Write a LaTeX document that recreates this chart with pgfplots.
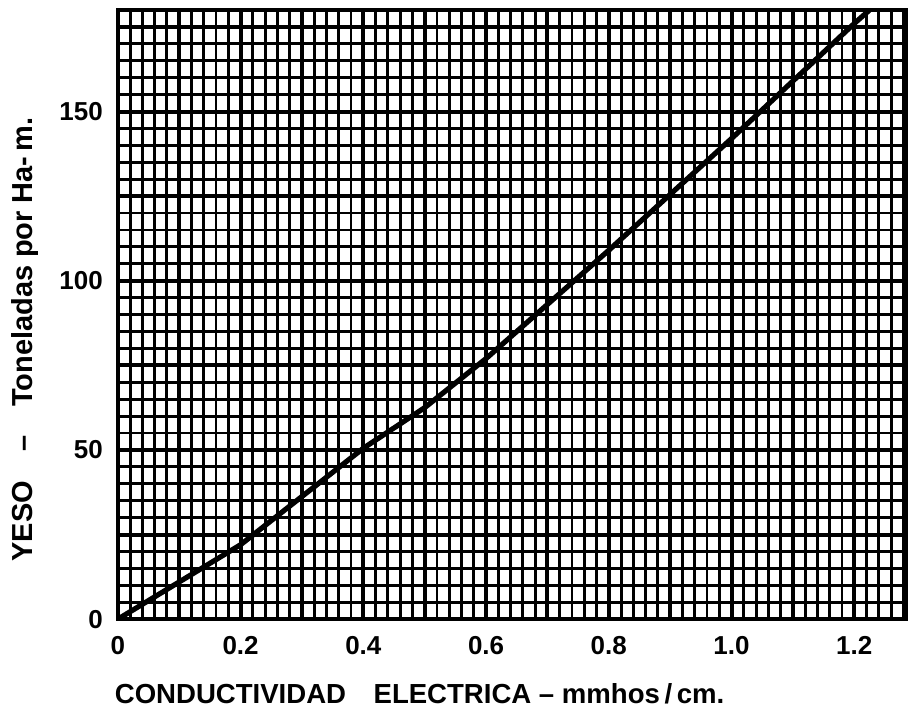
\documentclass[border=0pt]{standalone}
\usepackage{fontspec}
\setmainfont{Liberation Sans}
\usepackage{pgfplots}
\pgfplotsset{compat=1.18}
\begin{document}
\begin{tikzpicture}[x=1pt,y=1pt]
\begin{axis}[
  at={(0,0)}, anchor=origin,
  scale only axis,
  width=394.5pt, height=305pt,
  xmin=0, xmax=1.284, ymin=0, ymax=180,
  axis line style={line width=2.2pt},
  xtick={0,0.1,...,1.25},
  xticklabels={0,,0.2,,0.4,,0.6,,0.8,,1.0,,1.2},
  ytick={0,25,...,175},
  yticklabels={0,,50,,100,,150,},
  minor xtick={0,0.02,...,1.29},
  minor ytick={0,5,...,180},
  major tick length=0pt, minor tick length=0pt,
  grid=both,
  major grid style={black, line width=2.0pt},
  minor grid style={black, line width=1.45pt},
  tick label style={font=\bfseries\fontsize{13}{15}\selectfont},
  xticklabel style={yshift=-5pt},
  yticklabel style={xshift=-4pt},
  xlabel={CONDUCTIVIDAD\quad ELECTRICA -- mmhos\,/\,cm.},
  xlabel style={font=\bfseries\fontsize{13.8}{16}\selectfont, at={(axis description cs:0.383,-0.123)}, anchor=center},
  ylabel={YESO\quad--\quad Toneladas\ por\ Ha-\,m.},
  ylabel style={font=\bfseries\fontsize{14.5}{16}\selectfont, at={(axis description cs:-0.118,0.459)}, anchor=center},
  clip=true,
]
\addplot[black, line width=2.6pt] coordinates {
  (0,0) (0.2,22) (0.4,50.5) (0.5,62.5) (0.6,77) (0.8,109) (1.0,142) (1.2,176) (1.225,180)
};
\end{axis}
\path[use as bounding box] (-59pt,-53.5pt) rectangle (395pt,310pt);
\end{tikzpicture}
\end{document}
